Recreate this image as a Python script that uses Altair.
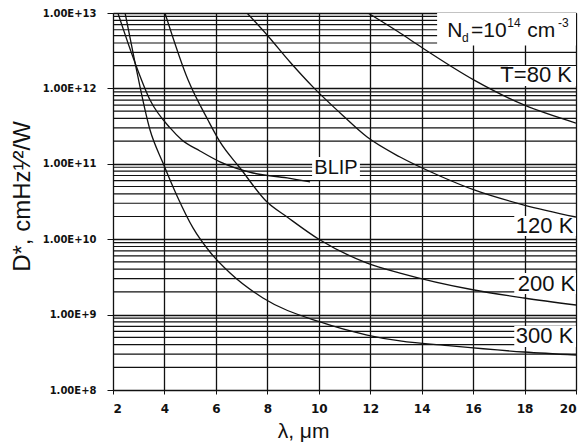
import altair as alt
import pandas as pd

# ---- data (wavelength in um, D* in cmHz^1/2/W) ----
lam_300 = [2.47, 2.86, 3.44, 3.94, 4.49, 5.11, 5.77, 6.55, 7.83, 10.05, 11.88, 13.16, 15.14, 17.98, 20.0]
d_300 = [1.0e13, 2.17e12, 2.81e11, 1.03e11, 3.74e10, 1.41e10, 6.76e9, 3.56e9, 1.66e9, 7.98e8, 5.36e8, 4.47e8, 3.84e8, 3.19e8, 2.91e8]

lam_blip = [2.19, 2.86, 3.44, 4.22, 4.68, 5.38, 6.16, 7.44, 8.77, 9.66]
d_blip = [1.0e13, 2.17e12, 7.02e11, 2.99e11, 2.07e11, 1.48e11, 1.06e11, 7.55e10, 6.49e10, 5.74e10]

lam_200 = [4.02, 4.92, 5.69, 6.16, 6.94, 7.99, 8.77, 10.05, 11.88, 13.16, 16.04, 17.98, 20.0]
d_200 = [1.0e13, 1.29e12, 3.81e11, 1.95e11, 8.79e10, 3.11e10, 1.97e10, 9.75e9, 4.83e9, 3.56e9, 2.12e9, 1.66e9, 1.34e9]

lam_120 = [7.21, 7.99, 8.88, 9.78, 10.83, 11.88, 13.16, 14.71, 16.04, 17.98, 20.0]
d_120 = [1.0e13, 5.11e12, 2.24e12, 1.04e12, 4.72e11, 2.26e11, 1.23e11, 6.89e10, 4.50e10, 2.84e10, 1.97e10]

lam_80 = [11.91, 13.16, 13.98, 16.04, 17.98, 20.0]
d_80 = [1.0e13, 5.43e12, 3.54e12, 1.29e12, 6.03e11, 3.47e11]

x_ticks = [2, 4, 6, 8, 10, 12, 14, 16, 18, 20]
y_ticks = [1e8, 1e9, 1e10, 1e11, 1e12, 1e13]

labels_text = ["T=80 K", "120 K", "200 K", "300 K", "BLIP"]
labels_x = [18.45, 18.78, 18.85, 18.78, 10.67]
labels_y = [1.51e12, 1.50e10, 2.58e9, 5.13e8, 8.67e10]
labels_size = [22, 22, 22, 22, 20]

box_x1 = [14.6, 17.35, 17.6, 17.6, 17.6, 9.74]
box_x2 = [20, 20, 20, 20, 20, 11.6]
box_y1 = [1e13, 1.98e12, 2.03e10, 3.56e9, 7.06e8, 1.23e11]
box_y2 = [3.72e12, 1.08e12, 1.10e10, 1.88e9, 3.72e8, 6.10e10]

nd_text = ["N", "d", "=10", "14", "cm", "-3"]
nd_x = [14.99, 15.57, 15.92, 17.33, 18.1, 19.3]
nd_y = [4.81e12, 4.12e12, 4.81e12, 6.52e12, 4.81e12, 6.52e12]
nd_size = [21, 12, 21, 12, 21, 12]

# ---- tables ----
rows = []
for name, lx, ly in [("300K", lam_300, d_300), ("BLIP", lam_blip, d_blip),
                     ("200K", lam_200, d_200), ("120K", lam_120, d_120),
                     ("80K", lam_80, d_80)]:
    for a, b in zip(lx, ly):
        rows.append({"series": name, "lam": a, "D": b})
curves = pd.DataFrame(rows)

minor = pd.DataFrame({"v": [k * 10 ** n for n in range(8, 13) for k in range(2, 10)]})
labels = pd.DataFrame({"t": labels_text, "x": labels_x, "y": labels_y, "s": labels_size})
boxes = pd.DataFrame({"x1": box_x1, "x2": box_x2, "y1": box_y1, "y2": box_y2})
nd = pd.DataFrame({"t": nd_text, "x": nd_x, "y": nd_y, "s": nd_size})

xs = alt.Scale(domain=[2, 20], nice=False, zero=False)
ys = alt.Scale(type="log", domain=[1e8, 1e13], nice=False)

x_axis = alt.Axis(values=x_ticks, grid=True, gridColor="#111", gridWidth=1.3, domain=False,
                  tickSize=4, tickColor="#111", labelFont="DejaVu Sans", labelFontWeight="bold",
                  labelFontSize=12, labelColor="#111", labelPadding=9,
                  title="λ, μm", titleFont="Liberation Sans", titleFontSize=21,
                  titleFontWeight="normal", titleColor="#111", titleX=190, titleY=47,
                  titleAlign="center", titleBaseline="alphabetic")
y_axis = alt.Axis(values=y_ticks, grid=True, gridColor="#111", gridWidth=1.3, domain=False,
                  tickSize=6, tickColor="#111", labelFont="DejaVu Sans", labelFontWeight="bold",
                  labelFontSize=10, labelColor="#111", labelPadding=11,
                  labelExpr="upper(format(datum.value, '.2e'))",
                  title="D*, cmHz¹⁄²/W", titleFont="Liberation Sans", titleFontSize=24,
                  titleFontWeight="normal", titleColor="#111", titleX=-84, titleY=183,
                  titleAngle=-90, titleAlign="center", titleBaseline="alphabetic")

grid_minor = alt.Chart(minor).mark_rule(color="#111", strokeWidth=1.2).encode(
    y=alt.Y("v:Q", scale=ys, axis=y_axis))

box_layer = alt.Chart(boxes).mark_rect(color="white").encode(
    x=alt.X("x1:Q", scale=xs, axis=x_axis), x2="x2:Q",
    y=alt.Y("y1:Q", scale=ys), y2="y2:Q")

lines = alt.Chart(curves).mark_line(color="#111", strokeWidth=1.3, interpolate="monotone", clip=True).encode(
    x=alt.X("lam:Q", scale=xs), y=alt.Y("D:Q", scale=ys), detail="series:N")

text_layer = alt.Chart(labels).mark_text(font="Liberation Sans", color="#111", align="center",
                                         baseline="middle").encode(
    x=alt.X("x:Q", scale=xs), y=alt.Y("y:Q", scale=ys), text="t:N",
    size=alt.Size("s:Q", scale=None, legend=None))

nd_layer = alt.Chart(nd).mark_text(font="Liberation Sans", color="#111", align="left",
                                   baseline="alphabetic").encode(
    x=alt.X("x:Q", scale=xs), y=alt.Y("y:Q", scale=ys), text="t:N",
    size=alt.Size("s:Q", scale=None, legend=None))

chart = alt.layer(grid_minor, box_layer, lines, text_layer, nd_layer).properties(
    width=463, height=377,
    autosize=alt.AutoSizeParams(type="none"),
    padding={"left": 113, "top": 13, "right": 8, "bottom": 53},
    background="white",
).configure_view(stroke="#111", strokeWidth=1)

chart.save("out.html", embed_options={"renderer": "svg", "actions": False})
